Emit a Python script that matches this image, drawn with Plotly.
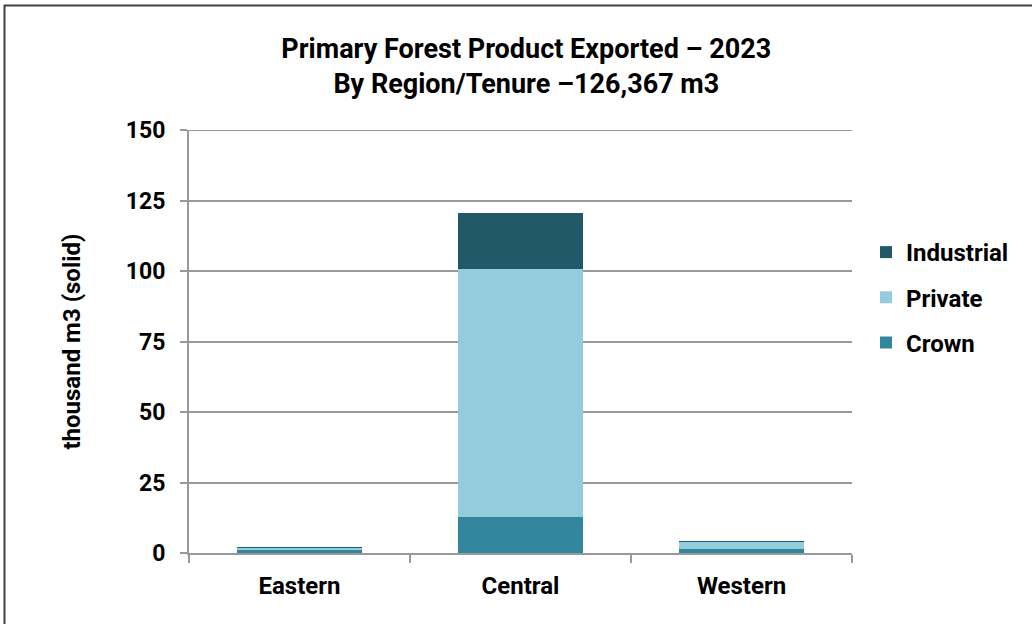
import plotly.graph_objects as go

regions = ["Eastern", "Central", "Western"]
crown = [1.4, 12.6, 1.3]
private = [0.4, 88.0, 2.6]
industrial = [0.3, 19.8, 0.1]

y_ticks = [0, 25, 50, 75, 100, 125, 150]

FONT = "Roboto"
GRAY = "#999999"

fig = go.Figure()
fig.add_trace(go.Bar(name="Crown", x=regions, y=crown, marker_color="#31859C",
                     marker_line_width=0, legendgroup="c", legendrank=3))
fig.add_trace(go.Bar(name="Private", x=regions, y=private, marker_color="#93CDDD",
                     marker_line_width=0, legendgroup="p", legendrank=2))
fig.add_trace(go.Bar(name="Industrial", x=regions, y=industrial, marker_color="#215968",
                     marker_line_width=0, legendgroup="i", legendrank=1))

L, R, T, B = 189, 180, 130, 71
W, H = 1032, 624
pw, ph = W - L - R, H - T - B

def px_x(px):
    return (px - L) / pw

def px_y(py):
    return (H - B - py) / ph

fig.update_layout(
    width=W, height=H,
    margin=dict(l=L, r=R, t=T, b=B),
    barmode="stack",
    bargap=0.43,
    paper_bgcolor="white",
    plot_bgcolor="white",
    font=dict(family=FONT, color="black"),
    title=dict(
        text="<b>Primary Forest Product Exported – 2023<br>By Region/Tenure –126,367 m3</b>",
        x=0.51, xanchor="center", y=0.907, yanchor="middle",
        font=dict(size=27, family=FONT, color="black"),
    ),
    legend=dict(
        x=px_x(866), xanchor="left", y=px_y(230), yanchor="top",
        traceorder="grouped",
        tracegroupgap=11,
        font=dict(size=24, family=FONT, color="black", weight="bold"),
        bgcolor="rgba(0,0,0,0)",
    ),
    xaxis=dict(
        showline=True, linecolor=GRAY, linewidth=2,
        ticks="outside", tickson="boundaries", ticklen=8, tickcolor=GRAY, tickwidth=2,
        ticklabelstandoff=10,
        tickfont=dict(size=24, family=FONT, color="black", weight="bold"),
        showgrid=False,
    ),
    yaxis=dict(
        range=[0, 150],
        tickvals=y_ticks,
        showline=True, linecolor=GRAY, linewidth=2,
        ticks="outside", ticklen=7, tickcolor=GRAY, tickwidth=2,
        ticklabelstandoff=10,
        showgrid=True, gridcolor=GRAY, gridwidth=2,
        zeroline=False,
        tickfont=dict(size=23, family=FONT, color="black", weight="bold"),
        title=dict(text="thousand m3 (solid)", standoff=38,
                   font=dict(size=24, family=FONT, color="black", weight="bold")),
    ),
    shapes=[
        dict(type="rect", xref="paper", yref="paper",
             x0=px_x(4.5), x1=px_x(1045), y0=px_y(640), y1=px_y(5.5),
             line=dict(color="#404040", width=2), fillcolor="rgba(0,0,0,0)", layer="below"),
        dict(type="line", xref="paper", yref="y", x0=0, x1=1, y0=150, y1=150,
             line=dict(color=GRAY, width=2), layer="below"),
    ],
)

fig.write_html("out.html")
